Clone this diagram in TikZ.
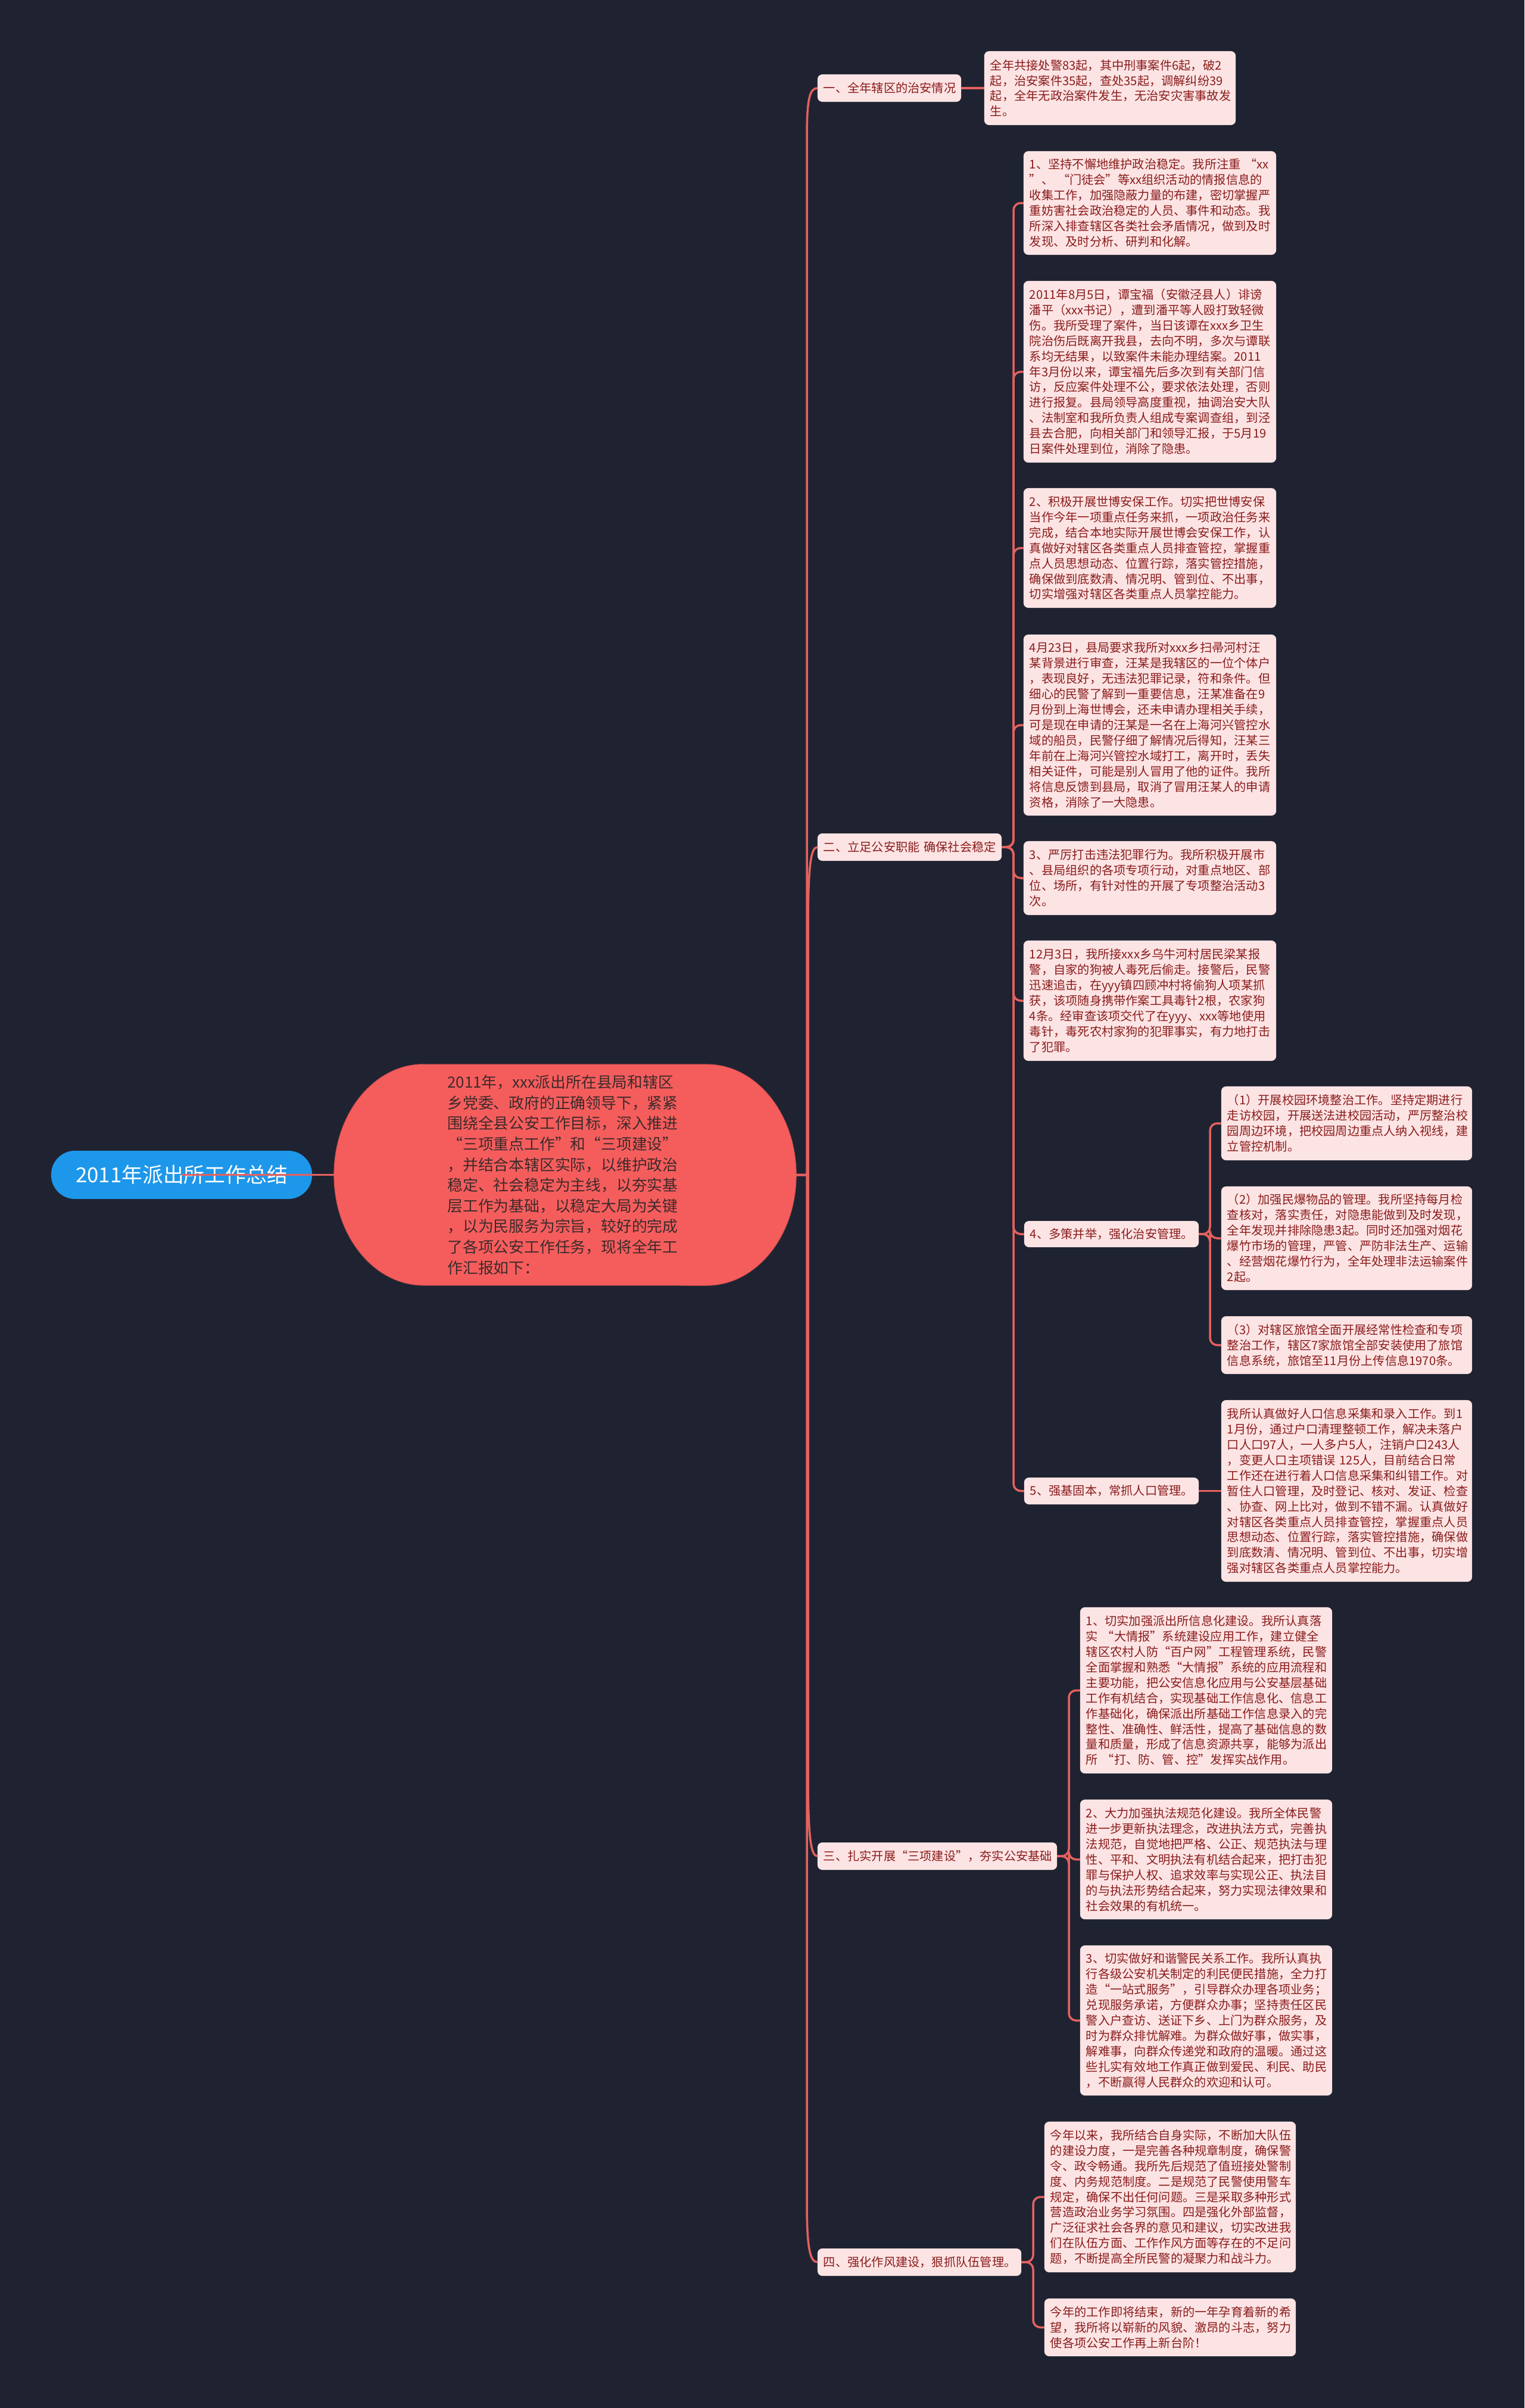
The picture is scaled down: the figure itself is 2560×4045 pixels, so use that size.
\documentclass[tikz,border=0pt]{standalone}
\usepackage{fontspec}
\setmainfont{Noto Sans CJK SC}
\definecolor{bgc}{HTML}{1F2331}
\definecolor{linkc}{HTML}{E5615F}
\definecolor{leaffill}{HTML}{FDE4E4}
\definecolor{leaftext}{HTML}{8A1C1C}
\definecolor{centerfill}{HTML}{F55D5D}
\definecolor{centertext}{HTML}{3D2A2A}
\definecolor{rootfill}{HTML}{1D97EA}
\newcommand\bx[7]{%
  \pgfmathsetmacro\bxw{(#5-#3)/100}%
  \pgfmathsetmacro\bxh{(#6-#4)/100}%
  \pgfmathsetmacro\bxt{(#5-#3)/100-0.2}%
  \pgfmathsetmacro\bxcx{(#3+#5)/2}%
  \pgfmathsetmacro\bxcy{(#4+#6)/2}%
  \node[#2, minimum width=\bxw cm, minimum height=\bxh cm, text width=\bxt cm] (#1) at (\bxcx,\bxcy) {#7};%
}
\tikzset{
  leafbox/.style={fill=leaffill, text=leaftext, rounded corners=0.08cm, inner xsep=0.1cm, inner ysep=0pt, outer sep=0pt, align=left, font=\fontsize{5.75pt}{7.37pt}\selectfont},
  conn/.style={draw=linkc, line width=0.035cm},
  subconn/.style={conn, rounded corners=0.12cm},
}
\begin{document}
\begin{tikzpicture}[x=0.01cm, y=-0.01cm]
\fill[bgc] (0,0) rectangle (2560,4045);

% root
\node[fill=rootfill, text=white, rounded corners=0.4cm, minimum width=4.38cm, minimum height=0.81cm, inner sep=0pt, font=\fontsize{9.9pt}{12pt}\selectfont] (root) at (305,1973.5) {2011年派出所工作总结};

% center
\fill[centerfill, draw=centerfill!85!black, line width=0.3pt] (711,1788) -- (1187,1788) arc[start angle=90, end angle=-90, x radius=1.5cm, y radius=1.855cm] -- (711,2159) arc[start angle=270, end angle=90, x radius=1.5cm, y radius=1.855cm] -- cycle;
\node[text=centertext, minimum width=7.76cm, minimum height=3.71cm, text width=3.95cm, inner sep=0pt, outer sep=0pt, align=left, font=\fontsize{7.34pt}{9.84pt}\selectfont] (center) at (949,1973.5) {2011年，xxx派出所在县局和辖区\\乡党委、政府的正确领导下，紧紧\\围绕全县公安工作目标，深入推进\\“三项重点工作”和“三项建设”\\，并结合本辖区实际，以维护政治\\稳定、社会稳定为主线，以夯实基\\层工作为基础，以稳定大局为关键\\，以为民服务为宗旨，较好的完成\\了各项公安工作任务，现将全年工\\作汇报如下：};

% branch labels
\bx{b1}{leafbox}{1373}{125}{1614}{171}{一、全年辖区的治安情况}
\bx{b2}{leafbox}{1373}{1400}{1682}{1446}{二、立足公安职能~确保社会稳定}
\bx{b3}{leafbox}{1373}{3095}{1775}{3141}{三、扎实开展“三项建设”，夯实公安基础}
\bx{b4}{leafbox}{1373}{3777}{1715}{3823}{四、强化作风建设，狠抓队伍管理。}

% branch 1 leaf
\bx{b1a}{leafbox}{1653}{86}{2075}{210}{全年共接处警83起，其中刑事案件6起，破2\\起，治安案件35起，查处35起，调解纠纷39\\起，全年无政治案件发生，无治安灾害事故发\\生。}

% branch 2 leaves
\bx{b2a}{leafbox}{1719}{254}{2143}{428}{1、坚持不懈地维护政治稳定。我所注重~“xx\\”、~“门徒会”等xx组织活动的情报信息的\\收集工作，加强隐蔽力量的布建，密切掌握严\\重妨害社会政治稳定的人员、事件和动态。我\\所深入排查辖区各类社会矛盾情况，做到及时\\发现、及时分析、研判和化解。}
\bx{b2b}{leafbox}{1719}{472}{2143}{777}{2011年8月5日，谭宝福（安徽泾县人）诽谤\\潘平（xxx书记），遭到潘平等人殴打致轻微\\伤。我所受理了案件，当日该谭在xxx乡卫生\\院治伤后既离开我县，去向不明，多次与谭联\\系均无结果，以致案件未能办理结案。2011\\年3月份以来，谭宝福先后多次到有关部门信\\访，反应案件处理不公，要求依法处理，否则\\进行报复。县局领导高度重视，抽调治安大队\\、法制室和我所负责人组成专案调查组，到泾\\县去合肥，向相关部门和领导汇报，于5月19\\日案件处理到位，消除了隐患。}
\bx{b2c}{leafbox}{1719}{820}{2143}{1021}{2、积极开展世博安保工作。切实把世博安保\\当作今年一项重点任务来抓，一项政治任务来\\完成，结合本地实际开展世博会安保工作，认\\真做好对辖区各类重点人员排查管控，掌握重\\点人员思想动态、位置行踪，落实管控措施，\\确保做到底数清、情况明、管到位、不出事，\\切实增强对辖区各类重点人员掌控能力。}
\bx{b2d}{leafbox}{1719}{1066}{2143}{1370}{4月23日，县局要求我所对xxx乡扫帚河村汪\\某背景进行审查，汪某是我辖区的一位个体户\\，表现良好，无违法犯罪记录，符和条件。但\\细心的民警了解到一重要信息，汪某准备在9\\月份到上海世博会，还未申请办理相关手续，\\可是现在申请的汪某是一名在上海河兴管控水\\域的船员，民警仔细了解情况后得知，汪某三\\年前在上海河兴管控水域打工，离开时，丢失\\相关证件，可能是别人冒用了他的证件。我所\\将信息反馈到县局，取消了冒用汪某人的申请\\资格，消除了一大隐患。}
\bx{b2e}{leafbox}{1719}{1413}{2143}{1537}{3、严厉打击违法犯罪行为。我所积极开展市\\、县局组织的各项专项行动，对重点地区、部\\位、场所，有针对性的开展了专项整治活动3\\次。}
\bx{b2f}{leafbox}{1719}{1580}{2143}{1782}{12月3日，我所接xxx乡乌牛河村居民梁某报\\警，自家的狗被人毒死后偷走。接警后，民警\\迅速追击，在yyy镇四顾冲村将偷狗人项某抓\\获，该项随身携带作案工具毒针2根，农家狗\\4条。经审查该项交代了在yyy、xxx等地使用\\毒针，毒死农村家狗的犯罪事实，有力地打击\\了犯罪。}
\bx{l4}{leafbox}{1720}{2051}{2013}{2095}{4、多策并举，强化治安管理。}
\bx{l5}{leafbox}{1720}{2482}{2013}{2527}{5、强基固本，常抓人口管理。}

% label 4 leaves
\bx{l4a}{leafbox}{2051}{1825}{2472}{1949}{（1）开展校园环境整治工作。坚持定期进行\\走访校园，开展送法进校园活动，严厉整治校\\园周边环境，把校园周边重点人纳入视线，建\\立管控机制。}
\bx{l4b}{leafbox}{2051}{1993}{2472}{2167}{（2）加强民爆物品的管理。我所坚持每月检\\查核对，落实责任，对隐患能做到及时发现，\\全年发现并排除隐患3起。同时还加强对烟花\\爆竹市场的管理，严管、严防非法生产、运输\\、经营烟花爆竹行为，全年处理非法运输案件\\2起。}
\bx{l4c}{leafbox}{2051}{2211}{2472}{2308}{（3）对辖区旅馆全面开展经常性检查和专项\\整治工作，辖区7家旅馆全部安装使用了旅馆\\信息系统，旅馆至11月份上传信息1970条。}

% label 5 leaf
\bx{l5a}{leafbox}{2051}{2352}{2472}{2657}{我所认真做好人口信息采集和录入工作。到1\\1月份，通过户口清理整顿工作，解决未落户\\口人口97人，一人多户5人，注销户口243人\\，变更人口主项错误~125人，目前结合日常\\工作还在进行着人口信息采集和纠错工作。对\\暂住人口管理，及时登记、核对、发证、检查\\、协查、网上比对，做到不错不漏。认真做好\\对辖区各类重点人员排查管控，掌握重点人员\\思想动态、位置行踪，落实管控措施，确保做\\到底数清、情况明、管到位、不出事，切实增\\强对辖区各类重点人员掌控能力。}

% branch 3 leaves
\bx{b3a}{leafbox}{1814}{2700}{2237}{2979}{1、切实加强派出所信息化建设。我所认真落\\实~“大情报”系统建设应用工作，建立健全\\辖区农村人防“百户网”工程管理系统，民警\\全面掌握和熟悉“大情报”系统的应用流程和\\主要功能，把公安信息化应用与公安基层基础\\工作有机结合，实现基础工作信息化、信息工\\作基础化，确保派出所基础工作信息录入的完\\整性、准确性、鲜活性，提高了基础信息的数\\量和质量，形成了信息资源共享，能够为派出\\所~“打、防、管、控”发挥实战作用。}
\bx{b3b}{leafbox}{1814}{3023}{2237}{3224}{2、大力加强执法规范化建设。我所全体民警\\进一步更新执法理念，改进执法方式，完善执\\法规范，自觉地把严格、公正、规范执法与理\\性、平和、文明执法有机结合起来，把打击犯\\罪与保护人权、追求效率与实现公正、执法目\\的与执法形势结合起来，努力实现法律效果和\\社会效果的有机统一。}
\bx{b3c}{leafbox}{1814}{3268}{2237}{3520}{3、切实做好和谐警民关系工作。我所认真执\\行各级公安机关制定的利民便民措施，全力打\\造“一站式服务”，引导群众办理各项业务；\\兑现服务承诺，方便群众办事；坚持责任区民\\警入户查访、送证下乡、上门为群众服务，及\\时为群众排忧解难。为群众做好事，做实事，\\解难事，向群众传递党和政府的温暖。通过这\\些扎实有效地工作真正做到爱民、利民、助民\\，不断赢得人民群众的欢迎和认可。}

% branch 4 leaves
\bx{b4a}{leafbox}{1754}{3564}{2176}{3817}{今年以来，我所结合自身实际，不断加大队伍\\的建设力度，一是完善各种规章制度，确保警\\令、政令畅通。我所先后规范了值班接处警制\\度、内务规范制度。二是规范了民警使用警车\\规定，确保不出任何问题。三是采取多种形式\\营造政治业务学习氛围。四是强化外部监督，\\广泛征求社会各界的意见和建议，切实改进我\\们在队伍方面、工作作风方面等存在的不足问\\题，不断提高全所民警的凝聚力和战斗力。}
\bx{b4b}{leafbox}{1754}{3861}{2176}{3958}{今年的工作即将结束，新的一年孕育着新的希\\望，我所将以崭新的风貌、激昂的斗志，努力\\使各项公安工作再上新台阶！}

% connectors
\draw[conn] (root.center) -- (center.west);
\draw[conn] (center.east) -- (1355,1973.5) -- (1355,230) .. controls (1355,165) and (1360,148) .. (b1.west);
\draw[conn] (center.east) -- (1357,1973.5) -- (1357,1560) .. controls (1357,1450) and (1362,1423) .. (b2.west);
\draw[conn] (center.east) -- (1357,1973.5) -- (1357,2980) .. controls (1357,3090) and (1362,3118) .. (b3.west);
\draw[conn] (center.east) -- (1355,1973.5) -- (1355,3700) .. controls (1355,3775) and (1360,3800) .. (b4.west);

\draw[conn] (b1.east) -- (b1a.west);

\foreach \c in {b2a,b2b,b2c,b2d,b2e,b2f,l4,l5}
  \draw[subconn] (b2.east) -- (1702,1423) |- (\c.west);
\foreach \c in {l4a,l4b,l4c}
  \draw[subconn] (l4.east) -- (2032,2073) |- (\c.west);
\draw[conn] (l5.east) -- (l5a.west |- l5.east);
\foreach \c in {b3a,b3b,b3c}
  \draw[subconn] (b3.east) -- (1795,3118) |- (\c.west);
\foreach \c in {b4a,b4b}
  \draw[subconn] (b4.east) -- (1735,3800) |- (\c.west);
\end{tikzpicture}
\end{document}
